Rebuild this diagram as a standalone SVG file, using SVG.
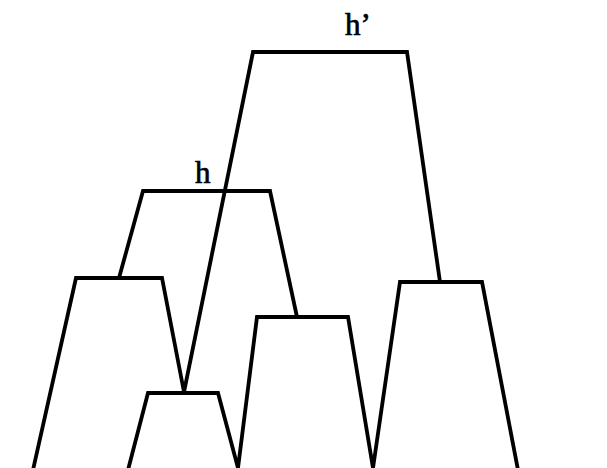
<svg xmlns="http://www.w3.org/2000/svg" width="607" height="468" viewBox="0 0 607 468">
<style>
.l{fill:none;stroke:#000;stroke-width:3.8;stroke-linejoin:miter;stroke-linecap:butt}
.t{font-family:"Liberation Serif","Times New Roman",serif;font-size:31px;fill:#000;stroke:#000;stroke-width:0.7}
</style>
<rect width="607" height="468" fill="#fff"/>
<g id="connectors">
<path id="hprime" class="l" d="M184,392 L253,52 L407,52 L440,282"/>
<path id="h" class="l" d="M119,278 L143,191 L270,191 L297,317"/>
<path id="c1" class="l" d="M33,470 L76,278 L162,278 L184,392"/>
<path id="c2" class="l" d="M128,470 L148,393 L218,393 L238,468 L257,317 L348,317 L373,468 L400,282 L482,282 L518,470"/>
</g>
<g id="label-h"><text class="t" x="195" y="183">h</text></g>
<g id="label-hprime"><text class="t" x="345" y="35">h’</text></g>
</svg>
